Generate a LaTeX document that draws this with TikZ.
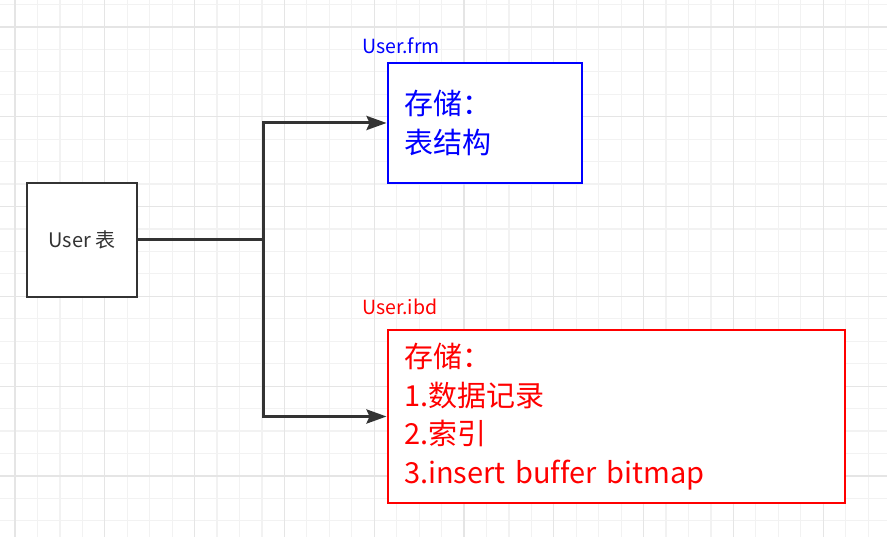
\documentclass[tikz,border=0pt]{standalone}
\usepackage{fontspec}
\setmainfont[Ligatures=NoCommon]{Noto Sans CJK SC}
\usetikzlibrary{arrows.meta}
\definecolor{gridminor}{RGB}{242,242,242}
\definecolor{gridmajor}{RGB}{229,229,229}
\definecolor{darkline}{RGB}{51,51,51}
\definecolor{myblue}{RGB}{0,0,255}
\definecolor{myred}{RGB}{255,0,0}
\tikzset{
  boxbase/.style={draw, rectangle, line width=2.9pt, inner sep=0pt},
  userbox/.style={boxbase, draw=darkline, fill=white, text=darkline,
    minimum width=110pt, minimum height=114pt, font=\fontsize{20}{24}\selectfont},
  storebox/.style={boxbase, fill=white, align=left, inner xsep=16pt,
    font=\fontsize{29}{38.5}\selectfont},
  lbl/.style={anchor=west, inner sep=0pt, font=\fontsize{19.5}{23}\selectfont},
  conn/.style={draw=darkline, line width=3pt},
  arr/.style={conn, -{Stealth[length=20pt,width=14pt,inset=3pt]}}
}
\begin{document}
\begin{tikzpicture}[x=1pt,y=-1pt]
\useasboundingbox (0,0) rectangle (887,537);
\fill[white] (0,0) rectangle (887,537);
% minor grid
\foreach \k in {-1,...,39} {
  \draw[gridminor, line width=1.2pt] ({15+22.45*\k},0) -- ({15+22.45*\k},537);
}
\foreach \k in {0,...,23} {
  \draw[gridminor, line width=1.2pt] (0,{4.5+22.45*\k}) -- (887,{4.5+22.45*\k});
}
% major grid
\foreach \k in {0,...,9} {
  \draw[gridmajor, line width=1.2pt] ({15+89.8*\k},0) -- ({15+89.8*\k},537);
}
\foreach \k in {0,...,5} {
  \draw[gridmajor, line width=1.2pt] (0,{27+89.8*\k}) -- (887,{27+89.8*\k});
}

\node[userbox] (user) at (82,240) {User 表};
\node[storebox, draw=myblue, text=myblue, minimum height=120pt,
      text width={194pt-32pt}] (frm) at (485,123) {存储：\\表结构};
\node[storebox, draw=myred, text=myred, minimum height=173pt,
      text width={457pt-32pt}] (ibd) at (616.5,416.5)
      {存储：\\1.数据记录\\2.索引\\3.insert buffer bitmap};
\node[lbl, text=myblue] (frmlbl) at (362,46) {User.frm};
\node[lbl, text=myred] (ibdlbl) at (362,307) {User.ibd};

\coordinate (junction) at (263,240);
\draw[conn] (user.east) -- (junction);
\draw[arr] (junction) |- (frm.west);
\draw[arr] (junction) |- (ibd.west);
\end{tikzpicture}
\end{document}
